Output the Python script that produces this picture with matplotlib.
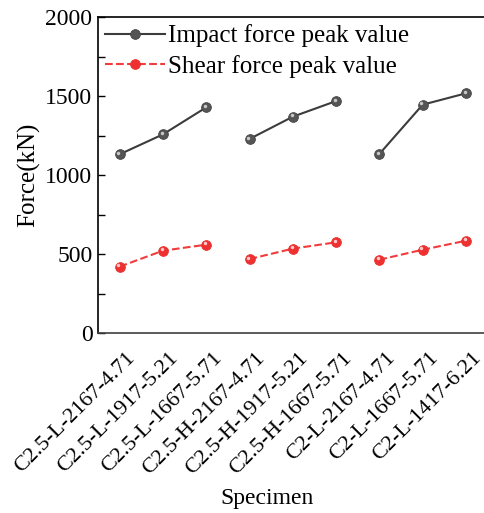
import numpy as np
import matplotlib.pyplot as plt
from matplotlib.transforms import ScaledTranslation

plt.rcParams['font.family'] = ['Liberation Serif', 'DejaVu Serif']

specimens = ['C2.5-L-2167-4.71', 'C2.5-L-1917-5.21', 'C2.5-L-1667-5.71',
             'C2.5-H-2167-4.71', 'C2.5-H-1917-5.21', 'C2.5-H-1667-5.71',
             'C2-L-2167-4.71', 'C2-L-1667-5.71', 'C2-L-1417-6.21']
impact = [1131, 1257, 1428, 1228, 1369, 1468, 1133, 1445, 1517]
shear = [420, 521, 559, 468, 534, 574, 464, 527, 584]
groups = [[0, 1, 2], [3, 4, 5], [6, 7, 8]]

fig = plt.figure(figsize=(4.85, 5.13), dpi=100)
ax = fig.add_axes([98/485, 180/513, 389.6/485, 316/513])

x = np.arange(len(specimens))
impact = np.array(impact)
shear = np.array(shear)

gray = '#3c3c3c'
red = '#f03c3c'
hl = ScaledTranslation(-1.3/100, 1.3/100, fig.dpi_scale_trans)

for i, g in enumerate(groups):
    ax.plot(x[g], impact[g], '-', color=gray, lw=1.5, marker='o', ms=7,
            mfc='#555555', mec='#444444', mew=0.6,
            label='Impact force peak value' if i == 0 else None)
    ax.plot(x[g], shear[g], '--', color=red, lw=1.5, marker='o', ms=7,
            mfc='#ee3030', mec='#e83030', mew=0.6,
            label='Shear force peak value' if i == 0 else None)
    # small highlight on the spheres
    ax.plot(x[g], impact[g], 'o', ms=2.5, color='#c8c8c8', mew=0,
            transform=ax.transData + hl)
    ax.plot(x[g], shear[g], 'o', ms=2.5, color='#ffc8c8', mew=0,
            transform=ax.transData + hl)

ax.set_xlim(-0.5, 8.5)
ax.set_ylim(0, 2000)
ax.set_yticks([0, 500, 1000, 1500, 2000])
ax.set_yticks([250, 750, 1250, 1750], minor=True)
ax.tick_params(axis='y', which='both', direction='in', length=5, width=1,
               labelsize=17, pad=4)
ax.tick_params(axis='x', length=0, labelsize=16, pad=2)
ax.set_xticks(x)
ax.set_xticklabels(specimens, rotation=45, ha='right', va='top',
                   rotation_mode='anchor')
off = ScaledTranslation(6/100, -13/100, fig.dpi_scale_trans)
for lab in ax.get_xticklabels():
    lab.set_transform(lab.get_transform() + off)

for s in ax.spines.values():
    s.set_linewidth(1.2)
ax.spines['bottom'].set_color('#404040')

ax.set_ylabel('Force(kN)', fontsize=18, labelpad=4)
ax.set_xlabel('Specimen', fontsize=17, labelpad=4)
ax.xaxis.set_label_coords((267 - 98) / 389.6, -0.49)

ax.legend(loc='upper left', frameon=False, fontsize=18, handlelength=2.4,
          handletextpad=0.1, labelspacing=0.3, borderaxespad=0.1,
          borderpad=0.2)

fig.savefig('out.png', dpi=100)
